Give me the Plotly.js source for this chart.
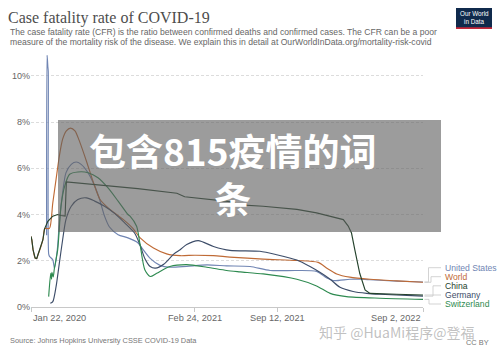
<!DOCTYPE html>
<html>
<head>
<meta charset="utf-8">
<script src="https://cdn.plot.ly/plotly-3.0.1.min.js"></script>
<style>html,body{margin:0;padding:0;background:#fff;}#chart{width:500px;height:352px;}</style>
</head>
<body>
<div id="chart"></div>
<script>
// ---- Data (case fatality rate, %) ----
const usDates = ['2020-02-29','2020-03-01','2020-03-02','2020-03-03','2020-03-04','2020-03-05','2020-03-07','2020-03-15','2020-03-19','2020-03-26','2020-03-31','2020-04-08','2020-04-16','2020-04-29','2020-05-11','2020-05-23','2020-06-09','2020-06-25','2020-07-07','2020-07-19','2020-07-31','2020-08-21','2020-09-14','2020-10-08','2020-10-20','2020-11-07','2020-12-01','2020-12-25','2021-02-04','2021-03-25','2021-05-12','2021-07-08','2021-08-26','2021-10-30','2021-12-17','2022-01-11','2022-01-27','2022-03-08','2022-04-02','2022-04-26','2022-06-30','2022-09-02'];
const usValues = [3.1,10.9,10.7,10.4,10.2,2.3,2.19,2.04,1.68,2.48,3.64,4.94,5.8,6.17,6.27,6.17,5.8,5.23,4.65,3.93,3.46,3.13,2.99,2.78,2.5,2.1,1.8,1.72,1.76,1.82,1.78,1.75,1.58,1.58,1.54,1.25,1.14,1.2,1.2,1.18,1.12,1.08];

const worldDates = ['2020-01-22','2020-01-24','2020-01-27','2020-02-01','2020-02-05','2020-02-08','2020-02-14','2020-02-20','2020-02-24','2020-02-27','2020-03-07','2020-03-15','2020-03-23','2020-03-31','2020-04-08','2020-04-17','2020-04-27','2020-05-08','2020-05-20','2020-06-06','2020-06-22','2020-07-08','2020-08-01','2020-09-03','2020-09-26','2020-10-13','2020-11-15','2020-12-17','2021-01-19','2021-02-24','2021-04-10','2021-05-20','2021-08-09','2021-10-30','2021-12-21','2022-01-11','2022-02-04','2022-03-08','2022-04-26','2022-06-30','2022-09-02'];
const worldValues = [3.05,2.9,2.48,2.12,2.1,2.26,2.55,2.91,3.38,3.4,3.4,4.5,5.52,6.53,7.26,7.62,7.74,7.62,7.12,6.25,5.38,4.65,4.22,3.78,3.4,3.0,2.55,2.3,2.22,2.24,2.22,2.16,2.07,2.01,1.93,1.68,1.43,1.29,1.2,1.13,1.07];

const chinaDates = ['2020-01-22','2020-01-24','2020-01-27','2020-02-01','2020-02-05','2020-02-08','2020-02-14','2020-02-20','2020-02-24','2020-03-03','2020-03-15','2020-03-27','2020-04-04','2020-04-14','2020-04-17','2020-06-25','2020-10-08','2021-01-11','2021-01-30','2021-05-20','2021-06-14','2021-08-09','2021-10-30','2021-12-17','2022-01-19','2022-02-20','2022-03-04','2022-03-12','2022-03-20','2022-04-01','2022-04-14','2022-04-26','2022-06-30','2022-09-02'];
const chinaValues = [3.05,2.9,2.48,2.12,2.1,2.26,2.55,2.91,3.38,3.71,3.93,4.0,3.96,3.93,5.41,5.3,5.12,4.92,4.77,4.56,4.42,4.36,4.22,4.07,3.92,3.78,3.5,3.2,2.48,1.46,0.74,0.59,0.55,0.52];

const germanyDates = ['2020-03-09','2020-03-15','2020-03-23','2020-03-31','2020-04-08','2020-04-16','2020-04-29','2020-05-15','2020-06-05','2020-06-25','2020-07-19','2020-08-13','2020-09-06','2020-09-30','2020-10-13','2020-10-25','2020-11-07','2020-11-20','2020-12-10','2021-01-04','2021-01-19','2021-02-04','2021-03-04','2021-04-10','2021-05-20','2021-08-01','2021-09-11','2021-10-30','2021-12-01','2021-12-25','2022-01-19','2022-02-12','2022-03-16','2022-04-18','2022-05-20','2022-09-02'];
const germanyValues = [0.16,0.23,0.88,1.9,2.91,3.78,4.36,4.65,4.72,4.58,4.36,4.04,3.64,3.2,2.7,2.1,1.75,1.68,1.85,2.3,2.48,2.7,2.87,2.62,2.45,2.41,2.26,2.03,1.75,1.5,1.2,0.85,0.67,0.59,0.55,0.47];

const swissDates = ['2020-03-05','2020-03-10','2020-03-12','2020-03-13','2020-03-16','2020-03-19','2020-03-27','2020-04-04','2020-04-13','2020-04-25','2020-05-15','2020-06-09','2020-07-03','2020-07-27','2020-08-21','2020-09-14','2020-09-19','2020-10-05','2020-10-13','2020-10-25','2020-11-07','2020-11-23','2020-12-25','2021-02-04','2021-03-25','2021-05-12','2021-06-14','2021-08-09','2021-10-30','2021-12-17','2022-01-19','2022-02-28','2022-05-20','2022-09-02'];
const swissValues = [0.45,1.46,1.2,1.5,1.3,1.68,2.48,4.36,5.23,5.74,5.84,5.81,5.59,5.16,4.58,4.0,3.93,3.49,2.75,1.61,1.32,1.46,1.75,1.83,1.72,1.58,1.52,1.43,1.2,0.91,0.59,0.45,0.38,0.33];

const seriesNames = ['United States','World','China','Germany','Switzerland'];
const seriesColors = ['#7085b3','#bf6a35','#24422c','#3d4d69','#2e8a50'];
const tickDates = ['2020-01-22','2021-02-24','2021-09-12','2022-09-02'];
const tickLabels = ['Jan 22, 2020','Feb 24, 2021','Sep 12, 2021','Sep 2, 2022'];
const yTicks = [0,2,4,6,8,10];
const yTickLabels = ['0%','2%','4%','6%','8%','10%'];

// ---- geometry helpers (pixel -> paper) ----
const L = 31, R = 423, T = 55, B = 307, W = 500, H = 352, YMAX = 10.9;
const px = p => (p - L) / (R - L);
const py = p => (B - p) / (B - T);

const seriesData = {
  'United States': [usDates, usValues],
  'World': [worldDates, worldValues],
  'China': [chinaDates, chinaValues],
  'Germany': [germanyDates, germanyValues],
  'Switzerland': [swissDates, swissValues]
};
const drawOrder = ['United States','World','Germany','Switzerland','China'];
const traces = drawOrder.map(n => {
  const i = seriesNames.indexOf(n);
  const smooth = n !== 'China';
  return {
    x: seriesData[n][0], y: seriesData[n][1], type: 'scatter', mode: 'lines', name: n,
    line: smooth ? {color: seriesColors[i], width: 1.15, shape: 'spline', smoothing: 0.7}
                 : {color: seriesColors[i], width: 1.15},
    hoverinfo: 'skip'
  };
});

const annotations = [];
const shapes = [];
const sans = '"Liberation Sans", Arial, sans-serif';

// subtitle
annotations.push({xref:'paper', yref:'paper', x:px(8), y:py(32), xanchor:'left', yanchor:'middle', showarrow:false,
  text:'The case fatality rate (CFR) is the ratio between confirmed deaths and confirmed cases. The CFR can be a poor', font:{family:sans, size:8.6, color:'#666'}});
annotations.push({xref:'paper', yref:'paper', x:px(8), y:py(42.3), xanchor:'left', yanchor:'middle', showarrow:false,
  text:'measure of the mortality risk of the disease. We explain this in detail at OurWorldInData.org/mortality-risk-covid', font:{family:sans, size:8.6, color:'#666'}});

// logo
shapes.push({type:'rect', xref:'paper', yref:'paper', x0:px(456), x1:px(492), y0:py(29), y1:py(8), fillcolor:'#102a4c', line:{width:0}});
shapes.push({type:'rect', xref:'paper', yref:'paper', x0:px(456), x1:px(492), y0:py(29), y1:py(27.3), fillcolor:'#c4283a', line:{width:0}});
annotations.push({xref:'paper', yref:'paper', x:px(474), y:py(14), xanchor:'center', yanchor:'middle', showarrow:false, text:'Our World', font:{family:sans, size:6.3, color:'#fff'}});
annotations.push({xref:'paper', yref:'paper', x:px(474), y:py(21.5), xanchor:'center', yanchor:'middle', showarrow:false, text:'in Data', font:{family:sans, size:6.3, color:'#fff'}});

// x tick labels
const anchors = ['left','center','center','right'];
tickDates.forEach((d, i) => {
  annotations.push({xref:'x', yref:'paper', x:d, y:py(317.5), xanchor:anchors[i], yanchor:'middle', showarrow:false,
    text:tickLabels[i], font:{family:sans, size:9.2, color:'#666'}});
});

// legend labels with connectors
const labelY = [267.7, 276.7, 285.8, 295, 304];
const elbowX = [428.5, 431, 433, 433, 429];
seriesNames.forEach((n, i) => {
  const vals = seriesData[n][1];
  const endP = py(B - vals[vals.length - 1] / YMAX * (B - T));
  annotations.push({xref:'paper', yref:'paper', x:px(442.5), y:py(labelY[i]), xanchor:'left', yanchor:'middle', showarrow:false,
    text:n, font:{family:sans, size:8.6, color:seriesColors[i]}});
  const ex = px(424.5), mx = px(elbowX[i]), lx = px(441);
  shapes.push({type:'path', xref:'paper', yref:'paper', layer:'above',
    path:`M ${ex},${endP} L ${mx},${endP} L ${mx},${py(labelY[i])} L ${lx},${py(labelY[i])}`,
    line:{color:'#c8c8c8', width:0.8}});
});

// source & license
annotations.push({xref:'paper', yref:'paper', x:px(8), y:py(340), xanchor:'left', yanchor:'middle', showarrow:false,
  text:'Source: Johns Hopkins University CSSE COVID-19 Data', font:{family:sans, size:7.4, color:'#777'}});
annotations.push({xref:'paper', yref:'paper', x:px(491), y:py(342), xanchor:'right', yanchor:'middle', showarrow:false,
  text:'CC BY', font:{family:sans, size:7.4, color:'#777'}});
annotations.push({xref:'paper', yref:'paper', x:px(317), y:py(331.5), xanchor:'left', yanchor:'middle', showarrow:false,
  text:'知乎 @HuaMi程序@登福', font:{family:'"Noto Sans CJK SC", sans-serif', size:14, color:'rgba(140,140,140,0.55)'}});

// overlay box with big text
shapes.push({type:'rect', xref:'paper', yref:'paper', layer:'above', x0:px(58), x1:px(441), y0:py(232), y1:py(120),
  fillcolor:'rgba(95,95,95,0.62)', line:{width:0}});
annotations.push({xref:'paper', yref:'paper', x:px(233), y:py(174), xanchor:'center', yanchor:'middle', align:'center', showarrow:false,
  text:'<b>包含815疫情的词</b><br><b>条</b>', font:{family:'"Noto Sans CJK SC", sans-serif', size:37, color:'#fff'}});

const layout = {
  width: W, height: H,
  margin: {l: L, r: W - R, t: T, b: H - B, pad: 0},
  paper_bgcolor: '#fff', plot_bgcolor: '#fff',
  showlegend: false,
  title: {text: 'Case fatality rate of COVID-19', xref: 'container', yref: 'container', x: 8 / W, xanchor: 'left',
    y: 1 - 17.5 / H, yanchor: 'middle', font: {family: '"Liberation Serif", "DejaVu Serif", serif', size: 16, color: '#4d4d4d'}},
  xaxis: {type: 'date', range: ['2020-01-22', '2022-09-02'], showgrid: false, zeroline: false,
    showline: true, linecolor: '#c8c8c8', linewidth: 1, ticks: 'outside', ticklen: 4, tickcolor: '#c8c8c8',
    tickvals: tickDates, showticklabels: false, fixedrange: true},
  yaxis: {range: [0, YMAX], tickvals: yTicks, ticktext: yTickLabels, showgrid: true, gridcolor: '#dcdcdc', griddash: '3px,2px',
    zeroline: false, showline: false, ticks: '', tickfont: {family: sans, size: 9, color: '#666'}, fixedrange: true},
  annotations: annotations,
  shapes: shapes
};

Plotly.newPlot('chart', traces, layout, {staticPlot: true, displayModeBar: false});
</script>
</body>
</html>
